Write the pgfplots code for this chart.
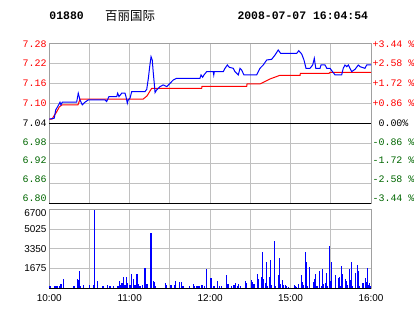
\documentclass[border=0pt]{standalone}
\usepackage{fontspec}
\setmainfont{Liberation Sans}
\newfontfamily\mono{Liberation Mono}
\newfontfamily\cjk{Noto Sans CJK SC}
\usepackage{pgfplots}
\pgfplotsset{compat=1.18}
\definecolor{dgreen}{RGB}{0,102,0}
\definecolor{gridc}{RGB}{192,192,192}
\definecolor{bordc}{RGB}{160,160,160}
\begin{document}
\begin{tikzpicture}[x=1bp,y=1bp]
\path[use as bounding box] (0,0) rectangle (414,314);
\node[font=\mono\bfseries\fontsize{11.5}{12}\selectfont, anchor=west, inner sep=0pt] at (49.3,298.3) {01880};
\node[font=\cjk\fontsize{12.5}{13}\selectfont, anchor=west, inner sep=0pt] at (105,298.3) {百丽国际};
\node[font=\mono\bfseries\fontsize{11.5}{12}\selectfont, anchor=west, inner sep=0pt] at (237.3,298.3) {2008-07-07 16:04:54};

\begin{axis}[
  at={(49.3bp,110.7bp)}, anchor=south west, scale only axis,
  width=321.7bp, height=159.6bp,
  xmin=0, xmax=240, ymin=6.80, ymax=7.28,
  xtick={0,30,...,240}, xticklabels={},
  ytick={6.80,6.86,6.92,6.98,7.04,7.10,7.16,7.22,7.28},
  yticklabels={},
  grid=major, grid style={gridc, line width=1bp},
  major tick length=0pt,
  axis line style={bordc, line width=1bp},
  clip=false,
]
\addplot[black, line width=1bp] coordinates {(0,7.04) (240,7.04)};
\addplot[black, line width=1.3bp] coordinates {(0,6.80) (240,6.80)};
\addplot[red, line width=1bp] coordinates {
(0,7.053) (2.0,7.053) (3.5,7.063) (5.5,7.075) (7.5,7.090) (9.5,7.096) (21.4,7.096) (22.9,7.113) (69.9,7.113) (72.9,7.123) (76.4,7.146) (113.7,7.146) (113.9,7.152) (147.3,7.152) (147.5,7.159) (157.2,7.159) (164.7,7.174) (172.1,7.185) (187.1,7.185) (187.3,7.191) (208.7,7.191) (209.4,7.194) (240,7.194)};
\addplot[blue, line width=1bp] coordinates {
(0,7.053) (3.7,7.056) (4.8,7.081) (6.3,7.091) (8.0,7.104) (8.7,7.096) (9.7,7.104) (20.4,7.104) (21.6,7.131) (22.9,7.111) (24.6,7.096) (26.6,7.104) (29.1,7.111) (41.6,7.111) (42.8,7.106) (44.5,7.121) (50.3,7.121) (51.0,7.131) (52.0,7.121) (54.0,7.131) (56.5,7.131) (57.2,7.121) (58.2,7.101) (58.9,7.111) (60.2,7.116) (61.5,7.136) (71.4,7.136) (72.7,7.143) (73.9,7.176) (74.9,7.211) (75.9,7.241) (76.8,7.231) (77.6,7.191) (78.3,7.161) (78.9,7.133) (80.1,7.141) (82.6,7.151) (85.0,7.156) (87.6,7.151) (90.1,7.161) (92.5,7.171) (95.0,7.176) (112.4,7.176) (113.2,7.186) (114.4,7.179) (115.4,7.186) (117.4,7.196) (122.3,7.196) (122.7,7.186) (123.1,7.196) (129.8,7.196) (131.1,7.206) (132.8,7.216) (134.3,7.209) (137.3,7.206) (138.5,7.196) (141.0,7.186) (142.3,7.206) (143.5,7.201) (145.2,7.186) (154.7,7.186) (157.2,7.206) (159.6,7.216) (162.2,7.231) (165.9,7.233) (168.4,7.246) (170.8,7.261) (172.6,7.251) (184.6,7.251) (186.1,7.259) (188.3,7.249) (190.0,7.231) (191.5,7.206) (194.5,7.206) (196.5,7.216) (197.7,7.236) (198.8,7.206) (202.0,7.206) (202.7,7.216) (205.7,7.216) (207.0,7.206) (209.4,7.206) (210.7,7.199) (213.2,7.186) (218.1,7.186) (219.3,7.206) (220.6,7.216) (221.9,7.211) (223.1,7.216) (224.3,7.206) (225.6,7.196) (228.1,7.203) (230.5,7.216) (231.8,7.211) (235.5,7.206) (236.8,7.216) (240,7.216)};
\begin{scope}[every node/.style={font=\mono\fontsize{10}{10}\selectfont, anchor=center, xshift=22.5bp, inner sep=0pt}]
\node[red] at (axis cs:240,7.28) [yshift=-0.8bp] {+3.44 \%};
\node[red] at (axis cs:240,7.22) {+2.58 \%};
\node[red] at (axis cs:240,7.16) {+1.72 \%};
\node[red] at (axis cs:240,7.10) {+0.86 \%};
\node[black] at (axis cs:240,7.04) {0.00\%};
\node[dgreen] at (axis cs:240,6.98) [yshift=1.5bp] {-0.86 \%};
\node[dgreen] at (axis cs:240,6.92) [yshift=2.8bp] {-1.72 \%};
\node[dgreen] at (axis cs:240,6.86) [yshift=3.7bp] {-2.58 \%};
\node[dgreen] at (axis cs:240,6.80) [yshift=5.2bp] {-3.44 \%};
\end{scope}
\begin{scope}[every node/.style={font=\mono\fontsize{10}{10}\selectfont, anchor=east, xshift=-2.6bp, inner sep=0pt}]
\node[red] at (axis cs:0,7.28) [yshift=-0.8bp] {7.28};
\node[red] at (axis cs:0,7.22) {7.22};
\node[red] at (axis cs:0,7.16) {7.16};
\node[red] at (axis cs:0,7.10) {7.10};
\node[black] at (axis cs:0,7.04) {7.04};
\node[dgreen] at (axis cs:0,6.98) [yshift=1.5bp] {6.98};
\node[dgreen] at (axis cs:0,6.92) [yshift=2.8bp] {6.92};
\node[dgreen] at (axis cs:0,6.86) [yshift=3.7bp] {6.86};
\node[dgreen] at (axis cs:0,6.80) [yshift=5.2bp] {6.80};
\end{scope}
\end{axis}

\begin{axis}[
  at={(49.3bp,25.7bp)}, anchor=south west, scale only axis,
  width=321.7bp, height=79bp,
  xmin=0, xmax=240, ymin=0, ymax=6700,
  xtick={0,30,...,240}, xticklabels={10:00,,11:00,,12:00,,15:00,,16:00},
  ytick={1675,3350,5025,6700}, yticklabels={1675,3350,5025,},
  scaled y ticks=false,
  yticklabel style={font=\fontsize{10}{10}\selectfont, inner sep=2.6bp},
  xticklabel style={font=\fontsize{10}{10}\selectfont, inner sep=0pt, yshift=-6bp},
  grid=major, grid style={gridc, line width=1bp},
  major tick length=0pt,
  axis line style={bordc, line width=1bp},
  clip=false,
]
\addplot[blue, ycomb, line width=1.1bp] coordinates {
(0.5,200)(3.7,200)(5.0,200)(6.2,200)(7.5,200)(8.7,340)(10.5,790)(17.9,200)(18.7,200)(20.9,790)(21.6,710)(22.4,1470)(23.6,200)(25.4,280)(29.8,280)(32.8,280)(33.6,6600)(35.8,620)(39.5,200)(40.3,200)(43.3,280)(45.3,200)(47.7,200)(50.7,200)(51.5,200)(52.2,620)(53.5,280)(54.2,420)(55.2,960)(56.5,280)(57.7,960)(58.5,420)(60.2,280)(61.2,1220)(62.7,790)(63.9,280)(65.4,1220)(66.4,340)(67.7,200)(69.4,280)(71.4,1750)(72.1,620)(72.9,340)(75.9,4730)(77.6,620)(78.3,570)(79.1,200)
(86.5,420)(87.3,280)(90.3,280)(91.0,280)(93.3,280)(94.0,620)(97.0,570)(98.5,510)(99.2,200)(100.3,200)(104.7,200)(107.4,370)(108.5,200)(110.2,200)(110.9,200)(111.7,200)(112.2,200)(113.4,280)(114.4,280)(115.9,200)(117.1,1640)(120.1,900)(120.9,900)(122.6,200)(123.4,200)(125.3,620)(126.8,200)(128.3,200)(132.0,1130)(133.3,370)(135.8,200)(137.8,280)(138.8,420)(140.2,200)(141.3,370)(142.8,200)(146.2,620)(147.3,420)(150.7,710)(151.7,570)(152.7,340)(155.2,1220)(155.9,790)(158.2,960)(158.9,3085)(159.6,790)
(161.1,420)(161.9,2210)(162.6,200)(164.1,960)(164.9,2400)(165.6,280)(167.9,4020)(168.6,200)(170.8,1130)(171.6,2580)(172.8,340)(173.8,710)(174.9,280)(176.1,280)(176.8,200)(178.6,140)(182.8,280)(183.5,200)(184.6,140)(185.8,340)(188.0,1130)(188.7,570)(189.5,280)(191.0,3085)(191.7,2210)(192.5,200)(194.0,1810)(197.0,510)(197.7,790)(198.4,1220)(199.7,200)(201.4,1470)(202.9,200)(203.7,1640)(204.4,370)(205.9,450)(206.6,1300)(207.4,200)(208.9,3590)(209.6,620)(210.4,2240)(213.4,1130)(215.6,900)(216.3,960)(217.1,200)(217.8,1900)(218.6,1250)(220.8,790)(221.6,620)(222.3,280)(223.8,1640)(224.5,710)(225.3,2240)(226.0,200)(228.3,1300)(229.8,1980)(230.5,1470)(231.3,200)(233.5,450)(234.2,450)(235.7,880)(236.5,570)(237.2,1730)(238.0,280)(238.7,450)(239.5,200)};
\addplot[black, line width=1.3bp] coordinates {(0,0) (240,0)};
\node[font=\fontsize{10}{10}\selectfont, anchor=east, inner sep=0pt, xshift=-2.6bp, yshift=-3.7bp] at (axis cs:0,6700) {6700};
\end{axis}
\end{tikzpicture}
\end{document}
